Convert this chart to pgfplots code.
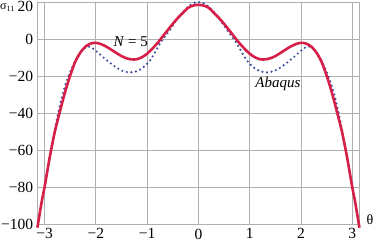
\documentclass[border=0pt]{standalone}
\usepackage{pgfplots}
\pgfplotsset{compat=1.18}
\usepackage{fontspec}
\setmainfont{Liberation Serif}
\definecolor{redc}{RGB}{214,32,72}
\definecolor{bluec}{RGB}{55,75,160}
\definecolor{gridc}{RGB}{175,175,175}
\begin{document}
\fontsize{15}{17}\selectfont
\begin{tikzpicture}
\begin{axis}[
  scale only axis,
  width=322.2pt, height=221.4pt,
  xmin=-3.1416, xmax=3.1416,
  ymin=-100, ymax=20,
  xtick={-3,-2,-1,0,1,2,3},
  xticklabels={−3,−2,−1,0,1,2,3},
  ytick={-100,-80,-60,-40,-20,0,20},
  yticklabels={−100,−80,−60,−40,−20,0,},
  major tick length=0pt,
  grid=major,
  major grid style={gridc, line width=0.8pt},
  axis line style={gridc, line width=0.8pt},
  tick label style={font=\fontsize{15.5}{17}\selectfont},
  xticklabel style={anchor=north, inner sep=0pt, yshift=-4.5pt},
  yticklabel style={anchor=east, inner sep=0pt, xshift=-4pt},
  clip=false,
]
\addplot[bluec, line width=2.4pt, line cap=round, dash pattern=on 0pt off 4.6pt, smooth] coordinates {
(-2.96,-73) (-2.86,-58) (-2.78,-46) (-2.70,-35.5) (-2.61,-26) (-2.52,-19) (-2.42,-12.5) (-2.33,-8.5) (-2.25,-5.5) (-2.16,-3.8) (-2.07,-4.6) (-1.97,-6.8) (-1.87,-9.3) (-1.74,-12.3) (-1.61,-15) (-1.47,-17.2) (-1.33,-17.8) (-1.20,-17.2) (-1.08,-15.2) (-0.98,-12.6) (-0.90,-9.5) (-0.82,-5.6) (-0.70,0) (-0.60,3.5) (-0.50,7.5) (-0.40,11.5) (-0.30,15) (-0.20,17.8) (-0.10,19.7) (0,20.3)
(0.10,19.7) (0.20,17.8) (0.30,15) (0.40,11.5) (0.50,7.5) (0.60,3.5) (0.70,0) (0.82,-5.6) (0.90,-9.5) (0.98,-12.6) (1.08,-15.2) (1.20,-17.2) (1.33,-17.8) (1.47,-17.2) (1.61,-15) (1.74,-12.3) (1.87,-9.3) (1.97,-6.8) (2.07,-4.6) (2.16,-3.8) (2.25,-5.5) (2.33,-8.5) (2.42,-12.5) (2.52,-19) (2.61,-26) (2.70,-35.5) (2.78,-46) (2.86,-58) (2.96,-73)
};
\addplot[redc, line width=2.6pt, smooth] coordinates {
(-3.14,-102) (-3.05,-87) (-3.0,-80) (-2.9,-64) (-2.8,-50) (-2.7,-39) (-2.6,-28.5) (-2.5,-19.5) (-2.4,-12) (-2.3,-7) (-2.2,-3.8) (-2.1,-2.2) (-2.0,-1.8) (-1.9,-2.5) (-1.8,-3.8) (-1.7,-5.5) (-1.6,-7.3) (-1.5,-9) (-1.4,-10.2) (-1.3,-10.8) (-1.2,-10.7) (-1.1,-9.6) (-1.0,-7.7) (-0.9,-5) (-0.8,-2) (-0.7,1.5) (-0.6,5) (-0.5,8.5) (-0.4,11.7) (-0.3,14.5) (-0.2,17.2) (-0.1,18.4) (0,18.8)
(0.1,18.4) (0.2,17.2) (0.3,14.5) (0.4,11.7) (0.5,8.5) (0.6,5) (0.7,1.5) (0.8,-2) (0.9,-5) (1.0,-7.7) (1.1,-9.6) (1.2,-10.7) (1.3,-10.8) (1.4,-10.2) (1.5,-9) (1.6,-7.3) (1.7,-5.5) (1.8,-3.8) (1.9,-2.5) (2.0,-1.8) (2.1,-2.2) (2.2,-3.8) (2.3,-7) (2.4,-12) (2.5,-19.5) (2.6,-28.5) (2.7,-39) (2.8,-50) (2.9,-64) (3.0,-80) (3.05,-87) (3.14,-102)
};
\node at (axis cs:-1.32,-1.4) {\textit{N} = 5};
\node at (axis cs:1.55,-24) {\textit{Abaqus}};
\node[anchor=east, inner sep=0pt, font=\fontsize{15.5}{17}\selectfont] at ([xshift=-4pt,yshift=-4.2pt]rel axis cs:0,1) {20};
\node[anchor=base west, inner sep=0pt, font=\fontsize{12}{14}\selectfont] at ([xshift=-37.3pt,yshift=-7pt]rel axis cs:0,1) {σ\textsubscript{11}};
\node[inner sep=0pt, font=\fontsize{14}{16}\selectfont] at ([xshift=10.5pt,yshift=4pt]rel axis cs:1,0) {θ};
\coordinate (bl) at (rel axis cs:0,0);
\coordinate (tr) at (rel axis cs:1,1);
\end{axis}
\pgfresetboundingbox
\path ([xshift=-37.3pt,yshift=-18pt]bl) rectangle ([xshift=13.5pt,yshift=2.6pt]tr);
\end{tikzpicture}
\end{document}
